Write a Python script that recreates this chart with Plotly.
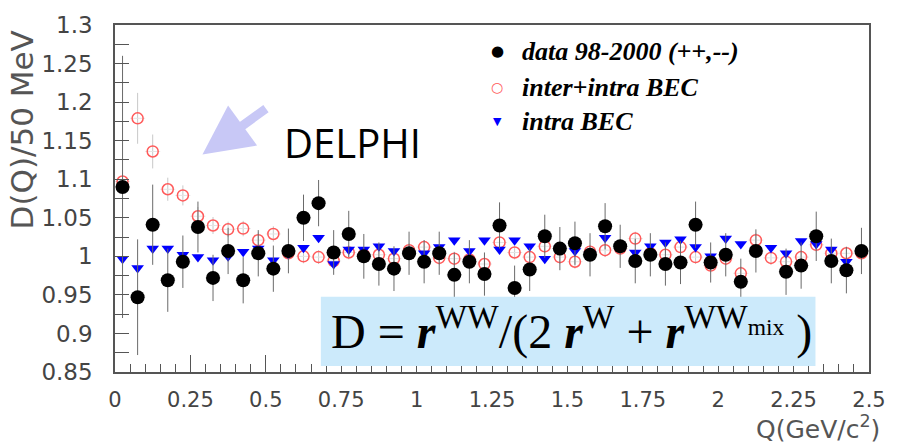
import plotly.graph_objects as go

# Q bin centres (GeV/c^2), 50 MeV bins
q_centers = [0.025 + 0.05 * i for i in range(50)]
q_halfwidth = [0.025] * 50

data_vals = [1.090, 0.947, 1.041, 0.969, 0.993, 1.038, 0.972, 1.007, 0.969, 1.004,
             0.984, 1.007, 1.050, 1.069, 1.005, 1.029, 1.000, 0.990, 0.984, 1.004,
             0.993, 1.004, 0.976, 0.993, 0.977, 1.040, 0.959, 0.983, 1.026, 1.010,
             1.017, 1.002, 1.039, 1.013, 0.994, 1.002, 0.990, 0.992, 1.041, 0.992,
             1.002, 0.967, 1.007, None, 0.980, 0.988, 1.026, 0.994, 0.982, 1.007]
data_err = [0.170, 0.075, 0.052, 0.041, 0.034, 0.033, 0.030, 0.030, 0.030, 0.030,
            0.030, 0.029, 0.030, 0.030, 0.029, 0.030, 0.029, 0.028, 0.029, 0.028,
            0.028, 0.028, 0.029, 0.028, 0.028, 0.030, 0.029, 0.028, 0.028, 0.028,
            0.028, 0.028, 0.030, 0.028, 0.029, 0.028, 0.028, 0.028, 0.030, 0.026,
            0.028, 0.030, 0.028, 0.028, 0.030, 0.030, 0.032, 0.029, 0.030, 0.030]

inter_vals = [1.097, 1.179, 1.136, 1.087, 1.079, 1.052, 1.040, 1.035, 1.036, 1.021,
              1.029, 1.004, 1.000, 0.999, 0.994, 1.005, 1.002, 1.002, 0.997, 1.008,
              1.012, 0.998, 0.997, 0.996, 0.990, 1.018, 1.005, 0.999, 1.013, 0.999,
              0.993, 1.006, 1.008, 1.010, 1.023, 1.004, 1.002, 1.012, 0.999, 0.988,
              0.997, 0.978, 1.021, 0.998, 0.993, 0.999, 1.015, 1.004, 1.004, 1.004]
inter_err = [0.012, 0.033, 0.022, 0.015, 0.013, 0.012, 0.011, 0.010, 0.010, 0.010,
             0.010, 0.009, 0.009, 0.009, 0.009, 0.009, 0.009, 0.009, 0.009, 0.009,
             0.009, 0.009, 0.009, 0.009, 0.009, 0.009, 0.009, 0.009, 0.009, 0.009,
             0.009, 0.009, 0.009, 0.009, 0.009, 0.009, 0.009, 0.009, 0.009, 0.009,
             0.009, 0.009, 0.009, 0.009, 0.009, 0.009, 0.009, 0.009, 0.009, 0.009]

intra_vals = [0.997, 0.985, 1.010, 1.010, 1.002, 0.999, 0.995, 1.000, 1.006, 1.010,
              0.995, 1.003, 1.011, 1.024, 0.990, 1.009, 1.009, 1.013, 1.007, 1.003,
              1.004, 1.012, 1.021, 1.007, 1.021, 1.009, 1.021, 1.013, 0.997, 1.011,
              1.007, 1.003, 1.024, 1.012, 1.005, 1.013, 1.018, 1.022, 1.012, 1.000,
              1.023, 1.016, 1.008, 1.011, 1.004, 1.020, 1.016, 1.009, 0.993, 1.006]

legend_labels = ["data 98-2000 (++,--)", "inter+intra BEC", "intra BEC"]
legend_symbols = ["●", "○", "▼"]
legend_colors = ["black", "#ff5a5a", "#0000ff"]
legend_symbol_sizes = [15, 14, 11]

fig = go.Figure()

fig.add_trace(go.Scatter(
    x=q_centers, y=inter_vals, mode="markers", name=legend_labels[1],
    marker=dict(symbol="circle-open", size=11, color="#ff5a5a", line=dict(width=1.5, color="#ff5a5a")),
    error_y=dict(type="data", array=inter_err, color="#c8c8c8", thickness=1, width=0),
    error_x=dict(type="data", array=q_halfwidth, color="#e4e4e4", thickness=1, width=0),
))
fig.add_trace(go.Scatter(
    x=q_centers, y=intra_vals, mode="markers", name=legend_labels[2],
    marker=dict(symbol="triangle-down", size=11, color="#0000ff"),
))
fig.add_trace(go.Scatter(
    x=q_centers, y=data_vals, mode="markers", name=legend_labels[0],
    marker=dict(symbol="circle", size=14, color="black"),
    error_y=dict(type="data", array=data_err, color="#6a6a6a", thickness=1, width=0),
    error_x=dict(type="data", array=q_halfwidth, color="#c4c4c4", thickness=1, width=0),
))

fig.update_layout(
    width=898, height=448,
    margin=dict(l=115, r=21, t=17, b=76),
    paper_bgcolor="white", plot_bgcolor="white",
    showlegend=False,
    xaxis=dict(
        range=[0, 2.5], dtick=0.25, tick0=0,
        showgrid=False, zeroline=False,
        showline=True, linecolor="#555", linewidth=1.5, mirror=True,
        ticks="inside", ticklen=17, tickcolor="#555", tickwidth=1,
        minor=dict(dtick=0.05, ticks="inside", ticklen=8, tickcolor="#555", showgrid=False),
        tickfont=dict(family="DejaVu Sans", size=21, color="#444"),
        ticklabelstandoff=8,
    ),
    yaxis=dict(
        range=[0.85, 1.3], dtick=0.05, tick0=0.85,
        showgrid=False, zeroline=False,
        showline=True, linecolor="#555", linewidth=1.5, mirror=True,
        ticks="inside", ticklen=14, tickcolor="#555", tickwidth=1,
        minor=dict(dtick=0.025, ticks="inside", ticklen=14, tickcolor="#555", showgrid=False),
        tickfont=dict(family="DejaVu Sans", size=23, color="#444"),
        ticklabelstandoff=16,
    ),
)

# legend drawn as text rows
legend_rows_y = [0.925, 0.821, 0.722]
for lab, sym, col, ssz, yy in zip(legend_labels, legend_symbols, legend_colors, legend_symbol_sizes, legend_rows_y):
    fig.add_annotation(
        text=sym, showarrow=False, xref="paper", yref="paper", x=0.507, y=yy,
        xanchor="center", yanchor="middle",
        font=dict(family="DejaVu Sans", size=ssz, color=col),
    )
    fig.add_annotation(
        text=lab, showarrow=False, xref="paper", yref="paper", x=0.537, y=yy,
        xanchor="left", yanchor="middle",
        font=dict(family="Liberation Serif", size=26, color="black", style="italic", weight="bold"),
    )

# y-axis title (rotated)
fig.add_annotation(
    text="D(Q)/50 MeV", textangle=-90, showarrow=False,
    xref="paper", yref="paper", x=-0.124, y=0.99, xanchor="center", yanchor="top",
    font=dict(family="DejaVu Sans", size=31, color="#555"),
)
# x-axis title
fig.add_annotation(
    text="Q(GeV/c<sup>2</sup>)", showarrow=False,
    xref="paper", yref="paper", x=1.017, y=-0.108, xanchor="right", yanchor="top",
    font=dict(family="DejaVu Sans", size=25, color="#555"),
)
# DELPHI label
fig.add_annotation(
    text="DELPHI", showarrow=False,
    xref="paper", yref="paper", x=0.315, y=0.66, xanchor="center", yanchor="middle",
    font=dict(family="Open Sans", size=40, color="black"),
)
# arrow
fig.add_annotation(
    text="", showarrow=True, xref="x", yref="y", x=0.29, y=1.132,
    ax=65, ay=-47, arrowhead=2, arrowsize=1.1, arrowwidth=9, arrowcolor="#c8c8f6",
)
# formula box
fig.add_shape(
    type="rect", xref="paper", yref="paper", x0=0.273, x1=0.929, y0=0.017, y1=0.217,
    fillcolor="#cceafb", line=dict(width=0), layer="above",
)
fig.add_annotation(
    text="D = <b><i>r</i></b><sup>WW</sup>/(2 <b><i>r</i></b><sup>W</sup> + <b><i>r</i></b><sup>WW<sub>mix</sub></sup> )",
    showarrow=False, xref="paper", yref="paper", x=0.605, y=0.125,
    xanchor="center", yanchor="middle",
    font=dict(family="Liberation Serif", size=48, color="black"),
)

fig.write_html("out.html")
